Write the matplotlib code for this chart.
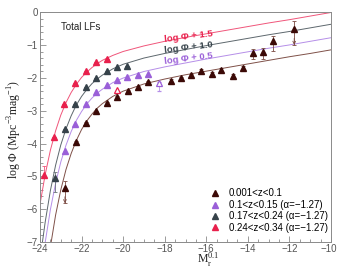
import matplotlib
matplotlib.use('Agg')
import matplotlib.pyplot as plt
from matplotlib.ticker import MultipleLocator
from matplotlib.lines import Line2D

plt.rcParams.update({
    'font.family': ['Liberation Sans', 'DejaVu Sans'],
    'font.size': 7,
    'axes.linewidth': 0.7,
    'axes.edgecolor': '#8a8a8a',
    'xtick.color': '#8a8a8a',
    'ytick.color': '#8a8a8a',
    'xtick.labelcolor': '#555555',
    'ytick.labelcolor': '#555555',
})

# colours of the four redshift bins
C_BROWN = '#3b0906'
C_PURPLE = '#9a5fd8'
C_GRAY = '#36424a'
C_RED = '#e8204c'

# ---- Schechter fits (offsets already applied) ----
red_line_x = [-24, -23.75, -23.5, -23.25, -23, -22.75, -22.5, -22.25, -22,
              -21.75, -21.5, -21.25, -21, -20.5, -20, -19, -18, -17, -16,
              -15, -14, -13, -12, -11, -10]
red_line_y = [-5.85, -4.94, -4.20, -3.61, -3.13, -2.75, -2.44, -2.19, -1.98,
              -1.82, -1.68, -1.56, -1.46, -1.31, -1.19, -1.02, -0.88, -0.76,
              -0.65, -0.54, -0.43, -0.32, -0.22, -0.11, 0.0]

gray_line_x = [-23.9, -23.75, -23.5, -23.25, -23, -22.75, -22.5, -22.25, -22,
               -21.75, -21.5, -21.25, -21, -20.5, -20, -19, -18, -17, -16,
               -15, -14, -13, -12, -11, -10]
gray_line_y = [-7.08, -6.39, -5.43, -4.66, -4.04, -3.55, -3.15, -2.82, -2.56,
               -2.35, -2.17, -2.03, -1.91, -1.72, -1.58, -1.39, -1.25, -1.13,
               -1.01, -0.90, -0.79, -0.68, -0.58, -0.47, -0.36]

purple_line_x = [-23.75, -23.5, -23.25, -23, -22.75, -22.5, -22.25, -22,
                 -21.75, -21.5, -21.25, -21, -20.5, -20, -19, -18, -17, -16,
                 -15, -14, -13, -12, -11, -10]
purple_line_y = [-7.01, -6.01, -5.21, -4.56, -4.05, -3.63, -3.29, -3.02,
                 -2.79, -2.61, -2.46, -2.34, -2.14, -2.00, -1.80, -1.66,
                 -1.54, -1.42, -1.31, -1.20, -1.09, -0.99, -0.88, -0.77]

brown_line_x = [-23.5, -23.25, -23, -22.75, -22.5, -22.25, -22, -21.75,
                -21.5, -21.25, -21, -20.5, -20, -19, -18, -17, -16, -15,
                -14, -13, -12, -11, -10]
brown_line_y = [-7.15, -6.18, -5.41, -4.79, -4.30, -3.90, -3.57, -3.31,
                -3.10, -2.92, -2.78, -2.56, -2.40, -2.18, -2.03, -1.90,
                -1.79, -1.68, -1.57, -1.46, -1.35, -1.25, -1.14]

# ---- measured luminosity functions ----
brown_x = [-22.80, -22.28, -21.78, -21.30, -20.78, -20.28, -19.79, -19.30,
           -18.79, -17.72, -17.24, -16.73, -16.25, -15.74, -15.31, -14.72,
           -14.24, -13.75, -13.27, -12.78, -11.77]
brown_y = [-5.36, -3.95, -3.38, -3.02, -2.75, -2.57, -2.38, -2.28,
           -2.13, -2.08, -2.01, -1.91, -1.77, -1.87, -1.74, -1.95,
           -1.69, -1.24, -1.20, -0.86, -0.50]
brown_err_lo = [0.46, 0.04, 0.03, 0.03, 0.03, 0.03, 0.03, 0.03,
                0.03, 0.04, 0.04, 0.04, 0.05, 0.05, 0.05, 0.07,
                0.06, 0.19, 0.22, 0.33, 0.49]
brown_err_hi = [0.23, 0.04, 0.03, 0.03, 0.03, 0.03, 0.03, 0.03,
                0.03, 0.04, 0.04, 0.04, 0.05, 0.05, 0.05, 0.07,
                0.06, 0.12, 0.13, 0.15, 0.25]
brown_limit = [True] + [False] * 19 + [True]

purple_x = [-22.78, -22.30, -21.80, -21.29, -20.78, -20.28, -19.80, -19.30, -18.79]
purple_y = [-4.22, -3.40, -2.80, -2.43, -2.21, -2.06, -1.96, -1.90, -1.87]
purple_open_x = [-18.26]
purple_open_y = [-2.16]
purple_open_lo = [0.25]
purple_open_hi = [0.03]

gray_x = [-23.29, -22.78, -22.30, -21.80, -21.30, -20.78, -20.28, -19.80]
gray_y = [-5.06, -3.56, -2.80, -2.26, -1.99, -1.80, -1.67, -1.62]
gray_err_lo = [0.40, 0, 0, 0, 0, 0, 0, 0]
gray_err_hi = [0.20, 0, 0, 0, 0, 0, 0, 0]

red_x = [-23.81, -23.32, -22.85, -22.30, -21.78, -21.30, -20.78]
red_y = [-4.95, -3.80, -2.80, -2.16, -1.77, -1.52, -1.42]
red_err_lo = [0.05, 0, 0, 0, 0, 0, 0]
red_err_hi = [0.27, 0, 0, 0, 0, 0, 0]
red_open_x = [-20.28]
red_open_y = [-2.36]

x_ticks = [-24, -22, -20, -18, -16, -14, -12, -10]
x_tick_labels = ['\u221224', '\u221222', '\u221220', '\u221218',
                 '\u221216', '\u221214', '\u221212', '\u221210']

legend_labels = ['0.001<z<0.1',
                 '0.1<z<0.15 (\u03b1=\u22121.27)',
                 '0.17<z<0.24 (\u03b1=\u22121.27)',
                 '0.24<z<0.34 (\u03b1=\u22121.27)']
offset_labels = ['log \u03a6 + 1.5', 'log \u03a6 + 1.0', 'log \u03a6 + 0.5']
offset_label_y = [-0.74, -1.07, -1.40]

fig = plt.figure(figsize=(3.37, 2.71), dpi=100)
ax = fig.add_axes([0.1187, 0.107, 0.8635, 0.847])

lw = 0.7
ax.plot(red_line_x, red_line_y, color='#f0557a', lw=lw, zorder=2)
ax.plot(gray_line_x, gray_line_y, color='#5d676d', lw=lw, zorder=2)
ax.plot(purple_line_x, purple_line_y, color='#b58ee8', lw=lw, zorder=2)
ax.plot(brown_line_x, brown_line_y, color='#7f5048', lw=lw, zorder=2)

ms = 5.0
ekw = dict(fmt='^', ms=ms, elinewidth=0.6, capsize=1.5, capthick=0.6, zorder=4)

ax.errorbar(brown_x, brown_y, yerr=[brown_err_lo, brown_err_hi], color=C_BROWN,
            ecolor='#7a4a42', mec=C_BROWN, **ekw)
for x, y, lo, lim in zip(brown_x, brown_y, brown_err_lo, brown_limit):
    if lim:
        ax.annotate('', xy=(x, y - lo), xytext=(x, y - lo + 0.2),
                    arrowprops=dict(arrowstyle='->', color='#7a4a42', lw=0.6,
                                    shrinkA=0, shrinkB=0, mutation_scale=5),
                    zorder=3)

ax.errorbar(purple_x, purple_y, color=C_PURPLE, mec=C_PURPLE, **ekw)
ax.errorbar(purple_open_x, purple_open_y, yerr=[purple_open_lo, purple_open_hi],
            color=C_PURPLE, ecolor='#b58ee8', mfc='white', mec=C_PURPLE,
            mew=0.9, **ekw)

ax.errorbar(gray_x, gray_y, yerr=[gray_err_lo, gray_err_hi], color=C_GRAY,
            ecolor='#6a747a', mec=C_GRAY, **ekw)

ax.errorbar(red_x, red_y, yerr=[red_err_lo, red_err_hi], color=C_RED,
            ecolor='#f0557a', mec=C_RED, **ekw)
ax.errorbar(red_open_x, red_open_y, color=C_RED, mfc='white', mec=C_RED,
            mew=0.9, **ekw)

# offset labels sitting on the curves
for text, ypos, col in zip(offset_labels, offset_label_y,
                           [C_RED, C_GRAY, C_PURPLE]):
    ax.text(-16.85, ypos, text, color=col, fontsize=6.8, fontweight='bold',
            rotation=7, ha='center', va='center', zorder=5)

ax.text(0.072, 0.935, 'Total LFs', transform=ax.transAxes, fontsize=7,
        color='#222222', ha='left', va='center')

ax.set_xlim(-24, -10)
ax.set_ylim(-7, 0)
ax.set_xticks(x_ticks)
# last label is drawn separately so it stays inside the image
ax.set_xticklabels(x_tick_labels[:-1] + [''])
ax.annotate(x_tick_labels[-1], xy=(x_ticks[-1], 0),
            xycoords=ax.get_xaxis_transform(), xytext=(4, -1.5),
            textcoords='offset points', ha='right', va='top',
            fontsize=7, color='#555555')
ax.xaxis.set_minor_locator(MultipleLocator(0.5))
ax.yaxis.set_major_locator(MultipleLocator(1))
ax.yaxis.set_minor_locator(MultipleLocator(0.2))
ax.tick_params(which='both', direction='in', top=False, right=False, width=0.6)
ax.tick_params(which='major', length=4.5, labelsize=7, pad=1.5)
ax.tick_params(which='minor', length=2.2)

serif = ['Liberation Serif', 'DejaVu Serif']
ax.text(-0.085, 0.49, 'log \u03a6 (Mpc$^{\\mathregular{-3}}$mag$^{\\mathregular{-1}}$)',
        transform=ax.transAxes, rotation=90, ha='center', va='center',
        fontsize=8.5, family=serif, color='#222222')
ax.text(0.578, -0.075, 'M$_{\\mathregular{r}}^{\\mathregular{0.1}}$',
        transform=ax.transAxes, ha='center', va='center',
        fontsize=8.5, family=serif, color='#222222')

handles = [Line2D([], [], ls='', marker='^', ms=ms, color=c)
           for c in (C_BROWN, C_PURPLE, C_GRAY, C_RED)]
ax.legend(handles, legend_labels, loc='lower right', bbox_to_anchor=(0.99, 0.04),
          frameon=False, fontsize=7, handlelength=1.2, handletextpad=0.8,
          labelspacing=0.15, borderaxespad=0.0, borderpad=0.0)

fig.savefig('out.png', dpi=100)
